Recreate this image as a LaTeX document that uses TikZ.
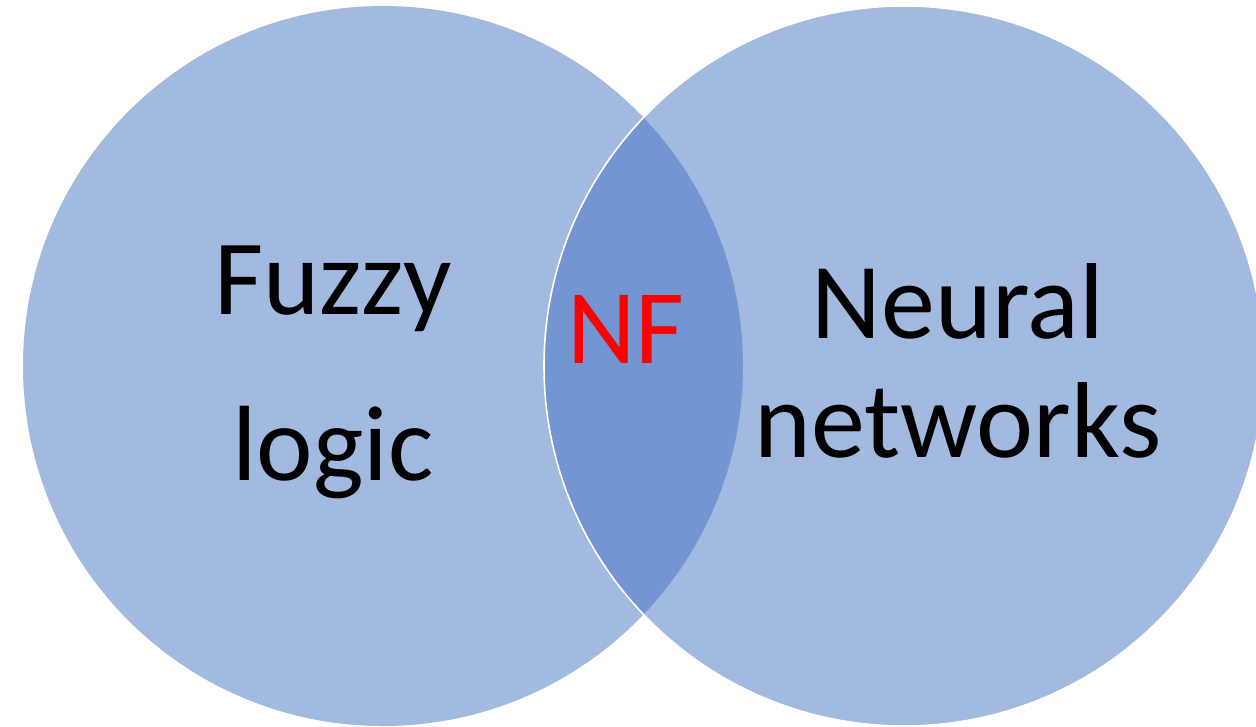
\documentclass[tikz,border=0pt]{standalone}
\usepackage{fontspec}
\setmainfont{Carlito}
\definecolor{setfill}{HTML}{A2B9E0}
\definecolor{lensfill}{HTML}{7395D1}
\definecolor{nfred}{HTML}{FF0000}
\tikzset{
  label/.style={inner sep=0pt, anchor=base, text=black},
}
\begin{document}
\begin{tikzpicture}[x=1pt, y=-1pt]
  \useasboundingbox (0,0) rectangle (1256,726);
  % two sets
  \coordinate (cl) at (383,366);
  \coordinate (cr) at (904,366);
  \fill[setfill] (cl) circle (360);
  \fill[setfill] (cr) circle (360);
  % intersection
  \begin{scope}
    \clip (cl) circle (360);
    \fill[lensfill] (cr) circle (360);
  \end{scope}
  \draw[white, line width=1.6pt] (cr) circle (360);
  % labels
  \node[label, font=\fontsize{107}{128}\selectfont] (fuzzy) at (333,314) {Fuzzy};
  \node[label, font=\fontsize{107}{128}\selectfont] (logic) at (333,480) {logic};
  \node[label, font=\fontsize{108}{130}\selectfont] (neural) at (958,338) {Neural};
  \node[label, font=\fontsize{108}{130}\selectfont] (networks) at (958,457) {networks};
  \node[label, text=nfred, font=\fontsize{106}{127}\selectfont] (nf) at (626,363) {NF};
\end{tikzpicture}
\end{document}
